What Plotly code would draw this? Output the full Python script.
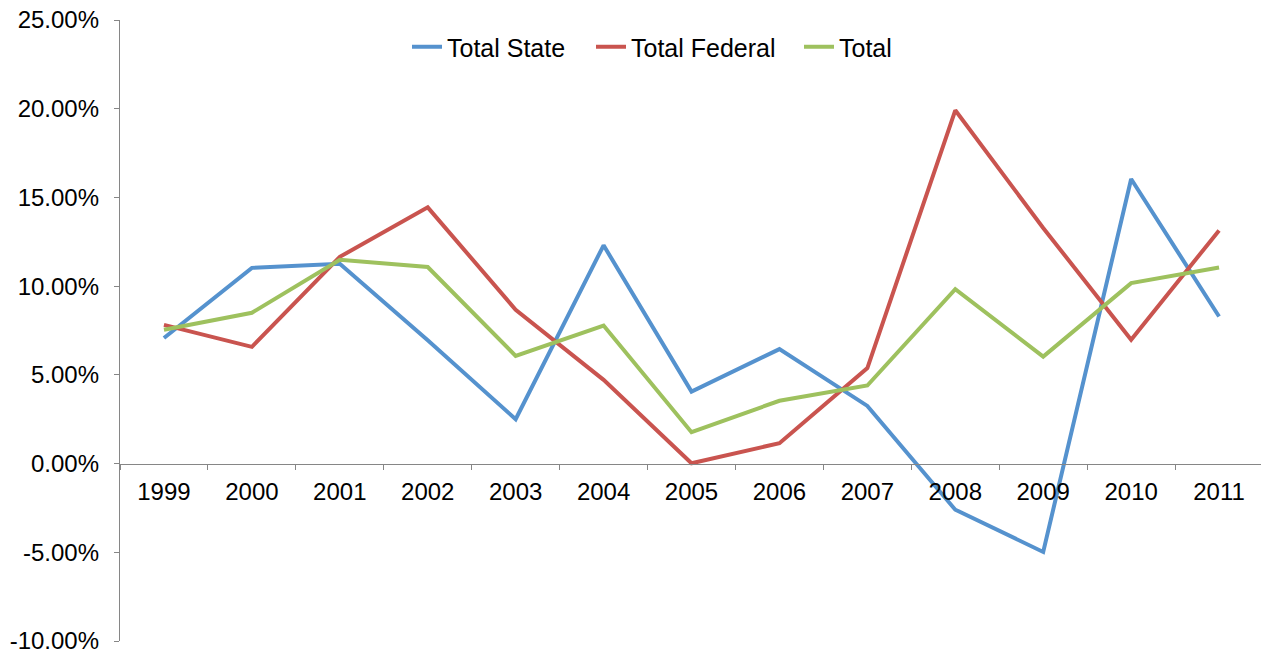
import plotly.graph_objects as go

years = ["1999", "2000", "2001", "2002", "2003", "2004", "2005", "2006", "2007", "2008", "2009", "2010", "2011"]
total_state = [7.08, 11.03, 11.26, 6.95, 2.50, 12.30, 4.06, 6.45, 3.25, -2.60, -4.98, 16.04, 8.29]
total_federal = [7.82, 6.58, 11.65, 14.44, 8.67, 4.72, 0.02, 1.15, 5.38, 19.91, 13.28, 6.98, 13.14]
total = [7.54, 8.50, 11.48, 11.08, 6.07, 7.78, 1.77, 3.54, 4.40, 9.83, 6.03, 10.17, 11.05]

y_tickvals = [-10, -5, 0, 5, 10, 15, 20, 25]
y_ticktext = ["-10.00%", "-5.00%", "0.00%", "5.00%", "10.00%", "15.00%", "20.00%", "25.00%"]

FONT = "Liberation Sans"
AXIS = "#868686"

series = [("Total State", total_state, "#5592CE", "legend", 412),
          ("Total Federal", total_federal, "#C9544F", "legend2", 596),
          ("Total", total, "#9EC15E", "legend3", 804)]

fig = go.Figure()
legends = {}
for name, vals, col, lg, lx in series:
    fig.add_trace(go.Scatter(x=years, y=vals, name=name, mode="lines", legend=lg,
                             line=dict(color=col, width=4)))
    legends[lg] = dict(orientation="h", xref="container", yref="container",
                       x=(lx - 5) / 1261, xanchor="left", y=1 - 47 / 651, yanchor="middle",
                       font=dict(family=FONT, size=25), bgcolor="rgba(0,0,0,0)",
                       borderwidth=0)

fig.update_layout(
    width=1261, height=651,
    margin=dict(l=120, r=0, t=20, b=10, autoexpand=False),
    paper_bgcolor="white", plot_bgcolor="white",
    font=dict(family=FONT, size=24, color="#000000"),
    showlegend=True,
    xaxis=dict(type="category", range=[-0.5, 12.477], showgrid=False, zeroline=False,
               showline=True, linecolor=AXIS, linewidth=1.3,
               ticks="outside", tickson="boundaries", ticklen=5, tickcolor=AXIS,
               anchor="free", position=10 / 35, ticklabelstandoff=6,
               tickfont=dict(family=FONT, size=24)),
    yaxis=dict(range=[-10, 25], showgrid=False, zeroline=False,
               showline=True, linecolor=AXIS, linewidth=1.3,
               ticks="outside", ticklen=5, tickcolor=AXIS,
               tickvals=y_tickvals, ticktext=y_ticktext, ticklabelstandoff=10,
               ticklabeloverflow="allow",
               tickfont=dict(family=FONT, size=24)),
    **legends,
)

fig.write_html("out.html")
